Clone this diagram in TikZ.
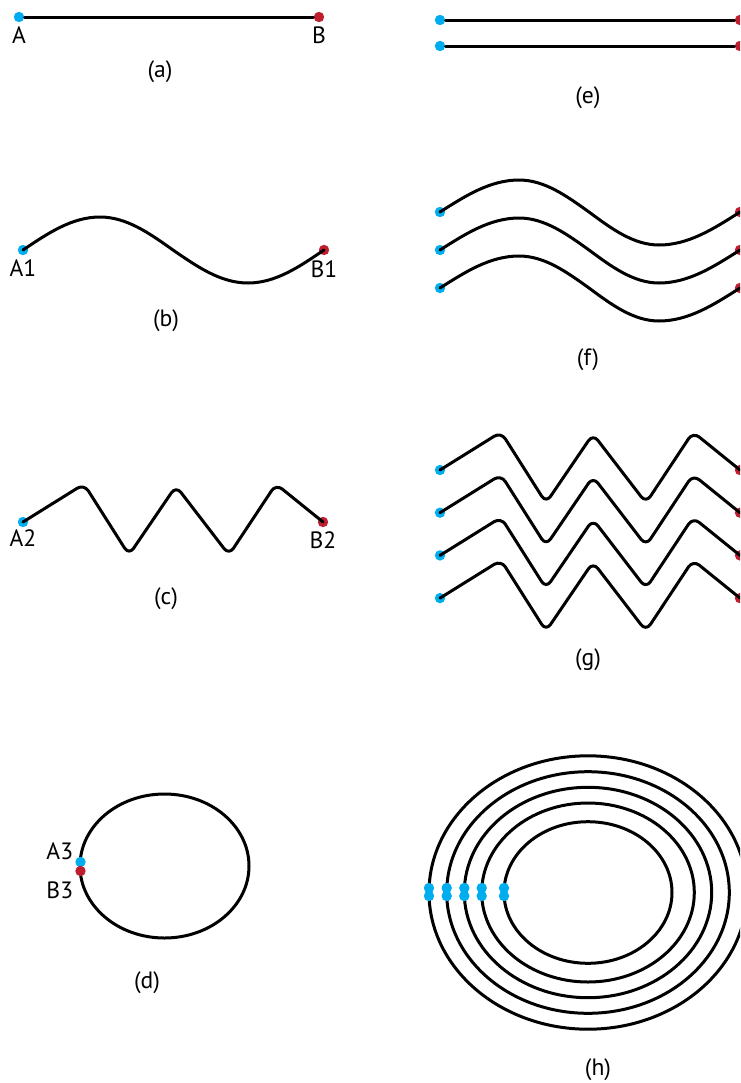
\documentclass[tikz,border=0pt]{standalone}
\usepackage{fontspec}
\setmainfont{PT Sans}
\usetikzlibrary{positioning}
\definecolor{endblue}{RGB}{0,174,239}
\definecolor{endred}{RGB}{190,30,45}

\begin{document}
\begin{tikzpicture}[x=0.5pt, y=-0.5pt,
        wire/.style={draw, line width=1.5pt, line join=round, line cap=round},
        zigzag/.style={wire, rounded corners=4pt},
        startdot/.style={circle, fill=endblue, inner sep=0pt, minimum size=5.2pt},
        enddot/.style={circle, fill=endred, inner sep=0pt, minimum size=5.2pt},
        lbl/.style={font=\fontsize{11.8}{14}\selectfont, inner sep=1pt},
        sublbl/.style={font=\fontsize{11.8}{14}\selectfont, inner sep=1pt}]

    \useasboundingbox (0,0) rectangle (740,1083);
    \clip (0,0) rectangle (740,1083);

    % (a) straight line
    \node[startdot] (A) at (19,17) {};
    \node[enddot] (B) at (319,17) {};
    \draw[wire] (A) -- (B);
    \node[lbl, below=1pt of A] {A};
    \node[lbl, below=1pt of B] {B};
    \node[sublbl] at (160,72) {(a)};

    % (b) one wave
    \node[startdot] (A1) at (23,250) {};
    \node[enddot] (B1) at (324,250) {};
    \draw[wire] (A1.center) sin ++(77,-33) cos ++(73,33) sin ++(75,33) cos (B1.center);
    \node[lbl, below=1pt of A1] {A1};
    \node[lbl, below=1.5pt of B1] {B1};
    \node[sublbl] at (166,321) {(b)};

    % (c) zigzag
    \node[startdot] (A2) at (23,522) {};
    \node[enddot] (B2) at (323,522) {};
    \draw[zigzag] (A2.center) -- ++(61,-38) -- ++(45,71) -- ++(47,-69) -- ++(53,69)
        -- ++(47,-71) -- (B2.center);
    \node[lbl, below=0pt of A2] {A2};
    \node[lbl, below=1pt of B2] {B2};
    \node[sublbl] at (166,599) {(c)};

    % (d) closed loop
    \coordinate (dc) at (164.5,866);
    \draw[wire] (dc) ellipse [x radius=84.5, y radius=72];
    \node[startdot] (A3) at (80.5,862) {};
    \node[enddot] (B3) at (80.5,871) {};
    \node[lbl, above left=-2pt and 0.5pt of A3] {A3};
    \node[lbl, below left=2pt and 0.5pt of B3] {B3};
    \node[sublbl] at (147,983) {(d)};

    % (e) two lines
    \foreach \i/\y in {0/20, 1/46} {
        \node[startdot] (ea\i) at (440,\y) {};
        \node[enddot] (eb\i) at (740,\y) {};
        \draw[wire] (ea\i) -- (eb\i);
    }
    \node[sublbl] at (588,98) {(e)};

    % (f) three waves
    \foreach \i in {0,1,2} {
        \node[startdot] (fa\i) at (440,212+38*\i) {};
        \node[enddot] (fb\i) at (740,212+38*\i) {};
        \draw[wire] (fa\i.center) sin ++(79,-32) cos ++(70,32) sin ++(70,33) cos (fb\i.center);
    }
    \node[sublbl] at (588,360) {(f)};

    % (g) four zigzags
    \foreach \i in {0,...,3} {
        \node[startdot] (ga\i) at (440,470+42.7*\i) {};
        \node[enddot] (gb\i) at (740,470+42.7*\i) {};
        \draw[zigzag] (ga\i.center) -- ++(61,-38) -- ++(45,71) -- ++(47,-69) -- ++(53,69)
            -- ++(47,-71) -- (gb\i.center);
    }
    \node[sublbl] at (588,660) {(g)};

    % (h) nested loops
    \coordinate (hc) at (588,892.5);
    \foreach \i/\rx/\ry in {0/159/136.7, 1/141.3/120.8, 2/123.7/105.2, 3/106.3/89.5, 4/84/70.8} {
        \draw[wire] (hc) ellipse [x radius=\rx, y radius=\ry];
        \node[startdot] (ha\i) at (588-\rx,888) {};
        \node[startdot] (hb\i) at (588-\rx,896) {};
    }
    \node[sublbl] at (598,1070) {(h)};

\end{tikzpicture}
\end{document}
